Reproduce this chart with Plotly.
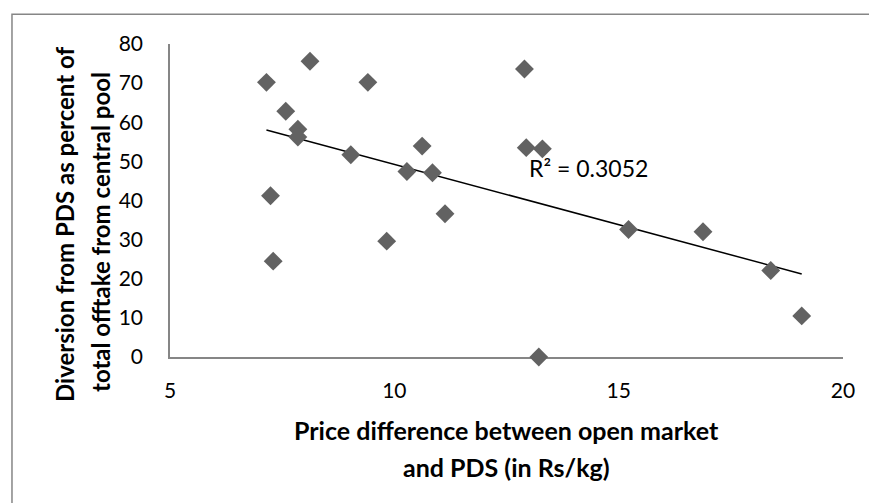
import numpy as np
import plotly.graph_objects as go

# Data
price_diff = [7.15, 8.12, 9.41, 7.58, 7.85, 7.85, 9.03, 7.24, 7.30, 9.83, 12.90,
              10.62, 12.94, 13.30, 10.28, 10.85, 11.13, 15.22, 16.88, 18.39, 19.08, 13.22]
diversion = [70.2, 75.6, 70.2, 62.8, 58.2, 56.2, 51.7, 41.2, 24.5, 29.6, 73.6,
             53.9, 53.5, 53.2, 47.4, 47.1, 36.6, 32.6, 32.0, 22.1, 10.5, 0.0]
x_ticks = [5, 10, 15, 20]
y_ticks = [0, 10, 20, 30, 40, 50, 60, 70, 80]
r2_label = "R² = 0.3052"
x_title_lines = ["Price difference between open market", "and PDS (in Rs/kg)"]
y_title_lines = ["Diversion from PDS as percent of", "total offtake from central pool"]

# Linear trend line (least squares)
slope, intercept = np.polyfit(price_diff, diversion, 1)
trend_x = [min(price_diff), max(price_diff)]
trend_y = [slope * v + intercept for v in trend_x]

FONT = "Lato, Carlito, Calibri, Arial, sans-serif"
AXIS_GRAY = "#868686"

fig = go.Figure()
fig.add_trace(go.Scatter(
    x=trend_x, y=trend_y, mode="lines",
    line=dict(color="black", width=1.5), hoverinfo="skip", showlegend=False,
))
fig.add_trace(go.Scatter(
    x=price_diff, y=diversion, mode="markers",
    marker=dict(symbol="diamond", size=14.5, color="#626262", line=dict(width=0)),
    cliponaxis=False, showlegend=False,
))

fig.update_layout(
    width=877, height=503,
    margin=dict(l=162, r=42, t=36, b=154),
    paper_bgcolor="white", plot_bgcolor="white",
    font=dict(family=FONT, color="black"),
    xaxis=dict(range=[5, 20], tickvals=x_ticks, showgrid=False, zeroline=False,
               showline=True, linecolor=AXIS_GRAY, linewidth=1.5, ticks="",
               ticklabelstandoff=14, tickfont=dict(size=21, family=FONT),
               layer="below traces", automargin=False),
    yaxis=dict(range=[0, 80], tickvals=y_ticks, showgrid=False, zeroline=False,
               showline=True, linecolor=AXIS_GRAY, linewidth=1.5, ticks="",
               ticklabelstandoff=21, tickfont=dict(size=21, family=FONT),
               layer="below traces", automargin=False),
    shapes=[dict(type="rect", xref="paper", yref="paper",
                 x0=-0.2348, y0=-0.5, x1=1.08, y1=1.0947,
                 line=dict(color=AXIS_GRAY, width=1.5), fillcolor="rgba(0,0,0,0)")],
    annotations=[
        dict(text=r2_label, x=12.96, y=48.4, xref="x", yref="y",
             xanchor="left", yanchor="middle", showarrow=False,
             font=dict(size=23, family=FONT)),
        dict(text="<b>" + x_title_lines[0] + "</b>", x=0.5, y=-0.2318,
             xref="paper", yref="paper", xanchor="center", yanchor="middle",
             showarrow=False, font=dict(size=25, family=FONT)),
        dict(text="<b>" + x_title_lines[1] + "</b>", x=0.5, y=-0.35,
             xref="paper", yref="paper", xanchor="center", yanchor="middle",
             showarrow=False, font=dict(size=25, family=FONT)),
        dict(text="<b>" + y_title_lines[0] + "</b>", x=-0.156, y=0.4219,
             xref="paper", yref="paper", xanchor="center", yanchor="middle",
             textangle=-90, showarrow=False, font=dict(size=24, family=FONT)),
        dict(text="<b>" + y_title_lines[1] + "</b>", x=-0.1025, y=0.3996,
             xref="paper", yref="paper", xanchor="center", yanchor="middle",
             textangle=-90, showarrow=False, font=dict(size=24, family=FONT)),
    ],
)

fig.write_html("out.html")
